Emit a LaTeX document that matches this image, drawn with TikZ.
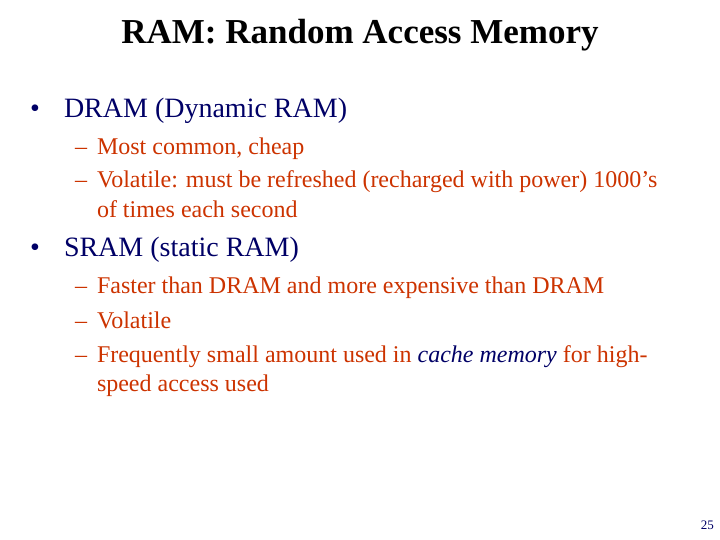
\documentclass[tikz,border=0pt]{standalone}
\usepackage{fontspec}
\setmainfont{Liberation Serif}
\begin{document}
\definecolor{navy}{HTML}{000066}
\definecolor{rust}{HTML}{CC3300}
\begin{tikzpicture}[x=1pt,y=-1pt,
  t/.style={anchor=base west,inner sep=0pt,outer sep=0pt},
  lone/.style={t,font=\fontsize{28}{28}\selectfont,text=navy},
  ltwo/.style={t,font=\fontsize{24}{24}\selectfont,text=rust}]
\useasboundingbox (0,0) rectangle (720,540);
\node[anchor=base,inner sep=0pt,font=\fontsize{35}{35}\selectfont\bfseries] (title) at (360,44) {RAM: Random Access Memory};
\node[lone] (b1) at (30,118) {•};
\node[lone] (t1) at (64,118) {DRAM (Dynamic RAM)};
\node[ltwo] (d1) at (75,155) {–};
\node[ltwo] (s1) at (97,155) {Most common, cheap};
\node[ltwo] (d2) at (75,188) {–};
\node[ltwo] (s2) at (97,188) {Volatile: must be refreshed (recharged with power) 1000’s};
\node[ltwo] (s2b) at (97,218) {of times each second};
\node[lone] (b2) at (30,256) {•};
\node[lone] (t2) at (64,256) {SRAM (static RAM)};
\node[ltwo] (d3) at (75,293) {–};
\node[ltwo] (s3) at (97,293) {Faster than DRAM and more expensive than DRAM};
\node[ltwo] (d4) at (75,328) {–};
\node[ltwo] (s4) at (97,328) {Volatile};
\node[ltwo] (d5) at (75,362) {–};
\node[ltwo] (s5) at (97,362) {Frequently small amount used in \textcolor{navy}{\itshape cache memory} for high-};
\node[ltwo] (s5b) at (97,391) {speed access used};
\node[anchor=base east,inner sep=0pt,font=\fontsize{13}{13}\selectfont,text=navy] (pg) at (714,529) {25};
\end{tikzpicture}
\end{document}
